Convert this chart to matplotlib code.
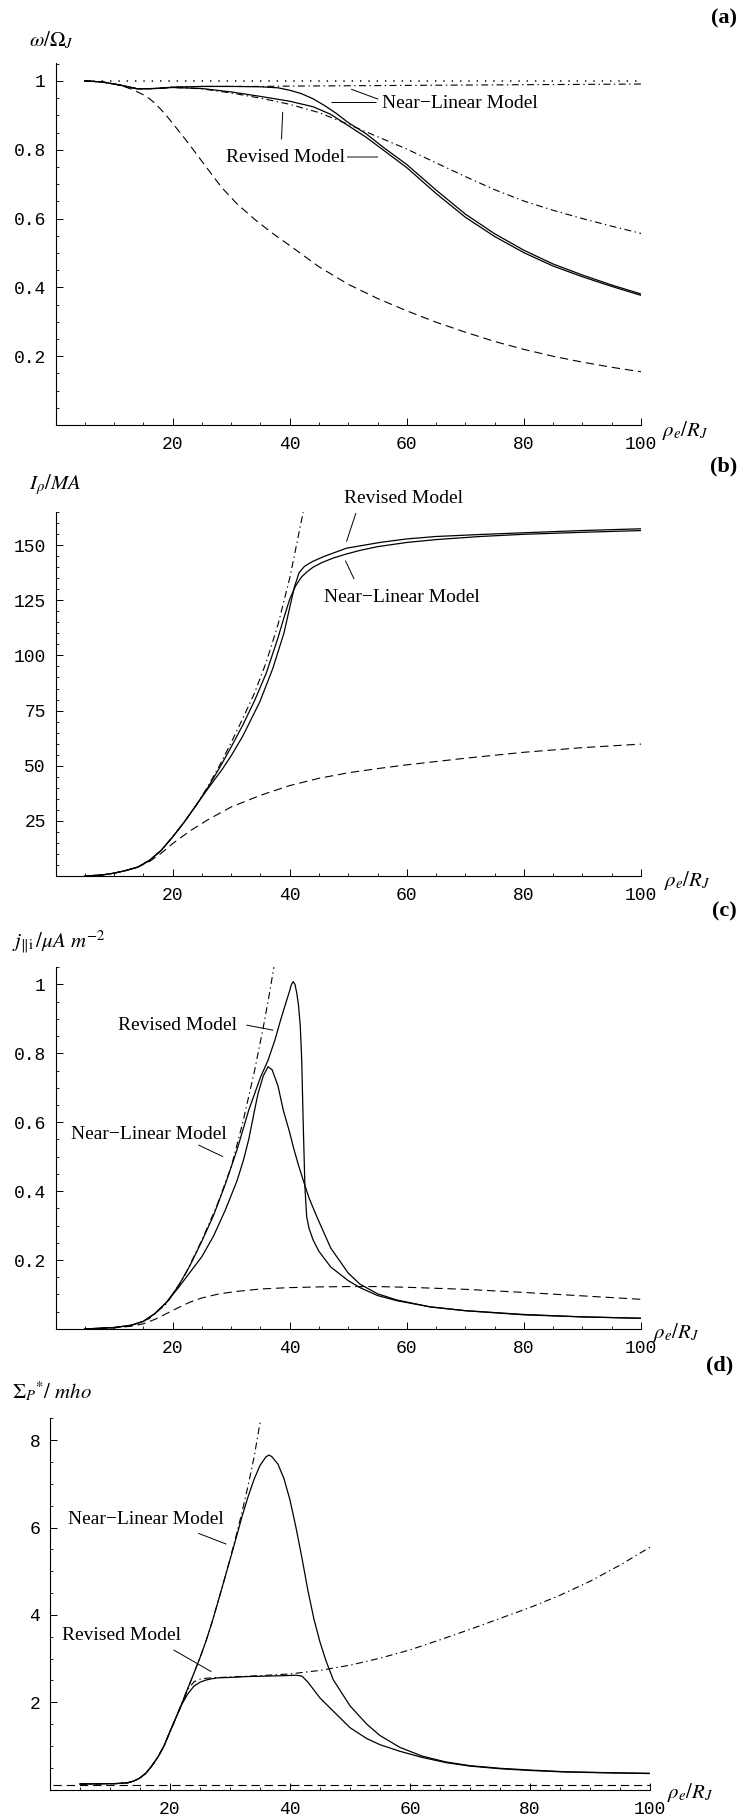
import matplotlib
matplotlib.use("Agg")
import matplotlib.pyplot as plt
from matplotlib.ticker import FixedLocator, FuncFormatter

plt.rcParams["font.family"] = "Liberation Mono"
plt.rcParams["mathtext.fontset"] = "stix"
plt.rcParams["lines.scale_dashes"] = False

SERIF = "Liberation Serif"

# ---------------- (a) omega / Omega_J ----------------
a_x_near = [5, 8, 11, 14, 17, 20, 25, 30, 35, 38, 40, 42, 44, 46, 48, 50, 53, 56, 60, 65, 70, 75, 80, 85, 90, 95, 100]
a_y_near = [1.0, 0.997, 0.988, 0.977, 0.978, 0.982, 0.984, 0.984, 0.983, 0.980, 0.973, 0.963, 0.948, 0.928, 0.905, 0.879,
            0.847, 0.807, 0.757, 0.683, 0.613, 0.556, 0.508, 0.468, 0.436, 0.407, 0.381]
a_x_rev = [5, 8, 11, 14, 17, 20, 25, 30, 35, 40, 44, 47, 50, 53, 56, 60, 65, 70, 75, 80, 85, 90, 95, 100]
a_y_rev = [1.0, 0.997, 0.988, 0.977, 0.978, 0.981, 0.978, 0.968, 0.955, 0.941, 0.925, 0.903, 0.870, 0.837, 0.799, 0.748,
           0.673, 0.604, 0.548, 0.501, 0.462, 0.431, 0.403, 0.377]
a_x_rev_dd = [5, 8, 11, 14, 17, 20, 25, 30, 35, 40, 45, 50, 55, 60, 65, 70, 75, 80, 85, 90, 95, 100]
a_y_rev_dd = [1.0, 0.997, 0.988, 0.977, 0.978, 0.981, 0.977, 0.965, 0.950, 0.932, 0.908, 0.874, 0.838, 0.802, 0.762,
              0.722, 0.684, 0.651, 0.624, 0.600, 0.578, 0.557]
a_x_near_dd = [5, 8, 11, 14, 17, 20, 25, 30, 35, 40, 50, 60, 70, 80, 90, 100]
a_y_near_dd = [1.0, 0.997, 0.988, 0.977, 0.978, 0.982, 0.984, 0.984, 0.984, 0.985, 0.986, 0.987, 0.988, 0.989, 0.990, 0.991]
a_x_hill = [5, 8, 11, 12, 13, 14, 15, 16, 17, 18, 19, 20, 22.7, 25.6, 28.4, 31, 34, 37, 40, 45, 50, 55, 60, 65, 70, 75,
            80, 85, 90, 95, 100]
a_y_hill = [1.0, 0.997, 0.988, 0.982, 0.976, 0.968, 0.960, 0.949, 0.935, 0.917, 0.898, 0.877, 0.819, 0.753, 0.69, 0.643,
            0.598, 0.558, 0.522, 0.46, 0.409, 0.368, 0.332, 0.299, 0.27, 0.243, 0.22, 0.2, 0.183, 0.168, 0.155]
a_x_rigid = [5, 100]
a_y_rigid = [1.0, 1.0]

# ---------------- (b) I_rho / MA ----------------
b_x_dd = [5, 8, 10, 12, 14, 16, 18, 20, 22, 24, 26, 28, 30, 32, 34, 36, 38, 40, 41, 42.3]
b_y_dd = [0, 0.5, 1.3, 2.5, 4.0, 7.0, 11.5, 17.7, 24.5, 32, 40.5, 50, 60.5, 71.5, 83, 97, 114, 135, 148, 165]
b_x_near = [5, 8, 10, 12, 14, 16, 18, 20, 22, 24, 26, 28, 30, 32, 34, 36, 38, 39, 40, 41, 42, 43, 44, 45.6, 47.5, 49.6,
            52, 55, 60, 65, 72.5, 80, 90, 100]
b_y_near = [0, 0.5, 1.3, 2.5, 4.0, 7.0, 11.5, 17.7, 24.5, 32, 40, 49, 58.5, 68.5, 79.5, 92, 108, 117, 125.5, 131.5,
            135.5, 138, 140, 142.2, 144.2, 145.9, 147.6, 149.3, 151.2, 152.5, 153.9, 154.9, 155.8, 156.6]
b_x_rev = [5, 8, 10, 12, 14, 16, 18, 20, 22, 24, 26, 28.5, 30, 32, 34.9, 37.1, 39, 40.2, 40.8, 41.6, 42.5, 43.2, 44, 46,
           49.7, 55.4, 60, 65, 72.5, 80, 90, 100]
b_y_rev = [0, 0.5, 1.3, 2.5, 4.0, 7.0, 11.5, 17.7, 24.5, 32, 39.5, 48.5, 54.5, 63.5, 79, 94, 110, 124, 131, 137.5,
           140.3, 141.5, 142.7, 145, 148.6, 151.2, 152.8, 153.9, 154.8, 155.6, 156.6, 157.4]
b_x_hill = [5, 8, 10, 12, 14, 16, 18, 20, 23, 26, 30, 35, 40, 45, 50, 55, 60, 70, 80, 90, 100]
b_y_hill = [0, 0.5, 1.3, 2.5, 4.0, 6.5, 10.2, 14.7, 20.5, 25.5, 31.3, 36.6, 41, 44.3, 46.8, 48.7, 50.4, 53.4, 56.1, 58.2, 59.8]

# ---------------- (c) j_||i ----------------
c_x_dd = [5, 10, 13, 16, 19, 22, 25, 27.5, 30, 32, 34, 35.5, 36.5, 37.3]
c_y_dd = [0, 0.004, 0.011, 0.03, 0.074, 0.153, 0.258, 0.355, 0.47, 0.6, 0.75, 0.877, 0.97, 1.05]
c_x_near = [5, 10, 13, 15, 17, 19, 21, 23, 25, 27, 29, 31, 32.1, 33, 34, 34.6, 35.5, 36.3, 37, 38, 38.9, 40, 40.6, 41.5,
            42.3, 43.3, 44.6, 47, 50, 52, 55, 58.3, 64, 70, 80, 90, 100]
c_y_near = [0, 0.004, 0.011, 0.022, 0.045, 0.078, 0.12, 0.165, 0.21, 0.27, 0.345, 0.43, 0.49, 0.55, 0.635, 0.684, 0.735,
            0.761, 0.752, 0.705, 0.635, 0.57, 0.529, 0.475, 0.432, 0.38, 0.327, 0.235, 0.162, 0.13, 0.102, 0.084, 0.064,
            0.053, 0.042, 0.035, 0.031]
c_x_rev = [5, 10, 13, 15, 17, 19, 21, 23, 25, 27, 29, 31, 33, 35, 36.3, 37.5, 38.5, 39.5, 40.0, 40.3, 40.6, 40.9, 41.2,
           41.5, 41.8, 42.05, 42.3, 42.6, 42.9, 43.3, 44, 45, 47, 50, 52, 55, 58.3, 64, 70, 80, 90, 100]
c_y_rev = [0, 0.004, 0.011, 0.022, 0.045, 0.078, 0.125, 0.185, 0.255, 0.33, 0.42, 0.52, 0.635, 0.73, 0.78, 0.84, 0.90,
           0.955, 0.982, 1.0, 1.008, 1.0, 0.975, 0.94, 0.88, 0.78, 0.6, 0.41, 0.325, 0.292, 0.258, 0.225, 0.18, 0.14,
           0.12, 0.097, 0.082, 0.064, 0.053, 0.041, 0.035, 0.031]
c_x_hill = [5, 10, 13, 15, 17, 19, 21, 23, 25, 28, 31, 35, 40, 45, 50, 55, 60, 70, 80, 90, 100]
c_y_hill = [0, 0.003, 0.008, 0.015, 0.028, 0.045, 0.062, 0.078, 0.09, 0.102, 0.109, 0.116, 0.12, 0.122, 0.123, 0.123,
            0.121, 0.115, 0.106, 0.096, 0.086]

# ---------------- (d) Sigma_P* ----------------
d_x_near = [5, 8, 11, 13, 14, 15, 16, 17, 18, 19, 20, 21, 22, 23, 24, 25, 26, 27, 28, 29, 30, 31, 32, 33, 34, 35, 36,
            36.5, 37, 38, 39, 40, 41, 42, 43, 44, 45, 46, 47.2, 50, 52.8, 55, 58.3, 62, 66, 70, 75, 80, 86, 93, 100]
d_y_near = [0.13, 0.135, 0.14, 0.16, 0.2, 0.27, 0.38, 0.55, 0.75, 1.0, 1.33, 1.65, 1.98, 2.33, 2.67, 3.02, 3.4, 3.83,
            4.3, 4.78, 5.26, 5.75, 6.25, 6.7, 7.1, 7.42, 7.62, 7.66, 7.62, 7.45, 7.12, 6.63, 6.0, 5.3, 4.55, 3.9, 3.38,
            2.95, 2.52, 1.92, 1.5, 1.24, 0.97, 0.77, 0.635, 0.55, 0.49, 0.45, 0.41, 0.39, 0.375]
d_x_rev = [5, 8, 11, 13, 14, 15, 16, 17, 18, 19, 20, 21, 22, 23, 24, 25, 26, 27, 28, 30, 33, 36, 39, 41, 42, 43, 44, 45,
           47.2, 50, 52.8, 55, 58.3, 62, 66, 70, 75, 80, 86, 93, 100]
d_y_rev = [0.13, 0.135, 0.14, 0.16, 0.2, 0.27, 0.38, 0.55, 0.75, 1.0, 1.33, 1.65, 1.96, 2.2, 2.37, 2.46, 2.51, 2.54,
           2.56, 2.57, 2.59, 2.6, 2.61, 2.62, 2.6, 2.46, 2.28, 2.1, 1.8, 1.42, 1.17, 1.03, 0.88, 0.74, 0.62, 0.54, 0.48,
           0.44, 0.405, 0.385, 0.37]
d_x_rev_dd = [5, 8, 11, 13, 14, 15, 16, 17, 18, 19, 20, 21, 22, 23, 24, 25, 26, 27, 30, 35, 40, 45, 50, 55, 60, 65,
              70, 75, 80, 85, 90, 95, 100]
d_y_rev_dd = [0.13, 0.135, 0.14, 0.16, 0.2, 0.27, 0.38, 0.55, 0.75, 1.0, 1.33, 1.65, 1.98, 2.3, 2.47, 2.53, 2.55, 2.56,
              2.58, 2.61, 2.65, 2.73, 2.85, 3.01, 3.2, 3.43, 3.67, 3.92, 4.17, 4.45, 4.77, 5.14, 5.55]
d_x_near_dd = [5, 8, 11, 13, 14, 15, 16, 17, 18, 19, 20, 21, 22, 23, 24, 25, 26, 27, 28, 29, 30, 31, 32, 33, 34, 35.1]
d_y_near_dd = [0.13, 0.135, 0.14, 0.16, 0.2, 0.27, 0.38, 0.55, 0.75, 1.0, 1.33, 1.65, 1.98, 2.33, 2.67, 3.02, 3.4,
               3.83, 4.3, 4.78, 5.28, 5.8, 6.35, 6.95, 7.6, 8.47]
d_x_const = [0.5, 100]
d_y_const = [0.1, 0.1]

SOLID = dict(color="black", lw=0.9, ls="-")
DASHED = dict(color="black", lw=0.8, dashes=(6, 3.5))
DASHDOT = dict(color="black", lw=0.8, dashes=(5, 2.5, 1, 2.5))
DOTTED = dict(color="black", lw=1.1, dashes=(1, 5))


def make_axes(fig, rect, ymax, y_major, y_minor, ylabel, ylabel_pos, xlabel_pos):
    ax = fig.add_axes(rect)
    ax.set_xlim(0, 100)
    ax.set_ylim(0, ymax)
    ax.spines[["top", "right"]].set_visible(False)
    for s in ("left", "bottom"):
        ax.spines[s].set_linewidth(0.8)
    ax.xaxis.set_major_locator(FixedLocator([20, 40, 60, 80, 100]))
    ax.xaxis.set_minor_locator(FixedLocator([5 * i for i in range(1, 21)]))
    ax.yaxis.set_major_locator(FixedLocator(y_major))
    ax.yaxis.set_minor_locator(FixedLocator(y_minor))
    fmt = FuncFormatter(lambda v, p: f"{v:g}")
    ax.xaxis.set_major_formatter(fmt)
    ax.yaxis.set_major_formatter(fmt)
    ax.tick_params(which="major", direction="in", length=5, width=0.7, labelsize=13)
    ax.tick_params(which="minor", direction="in", length=2.5, width=0.6)
    ax.tick_params(axis="x", pad=8)
    ax.tick_params(axis="y", pad=7)
    ax.text(ylabel_pos[0], ylabel_pos[1], ylabel, transform=ax.transAxes, fontsize=15,
            ha="left", va="center")
    ax.text(xlabel_pos[0], xlabel_pos[1], r"$\rho_e/R_J$", transform=ax.transAxes, fontsize=15,
            ha="left", va="center")
    return ax


def label(ax, x, y, txt):
    ax.text(x, y, txt, fontsize=14, family=SERIF, ha="left", va="center")


def leader(ax, xs, ys, color="black", lw=0.7):
    ax.plot(xs, ys, color=color, lw=lw, solid_capstyle="butt", clip_on=False)


fig = plt.figure(figsize=(7.46, 18.16), dpi=100)

# panel (a)
ax = make_axes(fig, [0.0744, 0.7659, 0.7849, 0.1992], 1.051,
               [0.2, 0.4, 0.6, 0.8, 1.0], [0.05 * i for i in range(1, 22)],
               r"$\omega/\Omega_J$", (-0.045, 1.064), (1.036, -0.014))
ax.plot(a_x_rigid, a_y_rigid, **DOTTED)
ax.plot(a_x_hill, a_y_hill, **DASHED)
ax.plot(a_x_near_dd, a_y_near_dd, **DASHDOT)
ax.plot(a_x_rev_dd, a_y_rev_dd, **DASHDOT)
ax.plot(a_x_near, a_y_near, **SOLID)
ax.plot(a_x_rev, a_y_rev, **SOLID)
label(ax, 55.7, 0.933, "Near\u2212Linear Model")
leader(ax, [47.0, 54.7], [0.938, 0.938])
leader(ax, [50.5, 55.1], [0.976, 0.947])
label(ax, 29.1, 0.777, "Revised Model")
leader(ax, [38.8, 38.6], [0.91, 0.83])
leader(ax, [49.7, 55.0], [0.78, 0.78], color="0.45", lw=1.2)

# panel (b)
ax = make_axes(fig, [0.0744, 0.5176, 0.7849, 0.2007], 165.2,
               [25, 50, 75, 100, 125, 150], [5 * i for i in range(1, 34)],
               r"$I_\rho/MA$", (-0.046, 1.073), (1.04, -0.011))
ax.plot(b_x_hill, b_y_hill, **DASHED)
ax.plot(b_x_dd, b_y_dd, **DASHDOT)
ax.plot(b_x_near, b_y_near, **SOLID)
ax.plot(b_x_rev, b_y_rev, **SOLID)
label(ax, 49.2, 171.3, "Revised Model")
leader(ax, [51.3, 49.7], [164.5, 151.6])
label(ax, 45.9, 126.4, "Near\u2212Linear Model")
leader(ax, [49.5, 51.0], [143, 134.6])

# panel (c)
ax = make_axes(fig, [0.0744, 0.2682, 0.7849, 0.1994], 1.051,
               [0.2, 0.4, 0.6, 0.8, 1.0], [0.05 * i for i in range(1, 22)],
               r"$j_{\|\mathrm{i}}\,/\mu A\ m^{-2}$", (-0.074, 1.065), (1.02, -0.011))
ax.plot(c_x_hill, c_y_hill, **DASHED)
ax.plot(c_x_dd, c_y_dd, **DASHDOT)
ax.plot(c_x_near, c_y_near, **SOLID)
ax.plot(c_x_rev, c_y_rev, **SOLID)
label(ax, 10.7, 0.88, "Revised Model")
leader(ax, [32.6, 37.2], [0.882, 0.867])
label(ax, 2.6, 0.563, "Near\u2212Linear Model")
leader(ax, [24.4, 28.6], [0.534, 0.5])

# panel (d)
ax = make_axes(fig, [0.0670, 0.01448, 0.8043, 0.2045], 8.5,
               [2, 4, 6, 8], [0.5 * i for i in range(1, 18)],
               r"$\Sigma_P{}^{*}/\ mho$", (-0.063, 1.072), (1.028, -0.008))
ax.plot(d_x_const, d_y_const, **DASHED)
ax.plot(d_x_near_dd, d_y_near_dd, **DASHDOT)
ax.plot(d_x_rev_dd, d_y_rev_dd, **DASHDOT)
ax.plot(d_x_near, d_y_near, **SOLID)
ax.plot(d_x_rev, d_y_rev, **SOLID)
label(ax, 3.05, 6.19, "Near\u2212Linear Model")
leader(ax, [24.7, 29.4], [5.87, 5.62])
label(ax, 1.95, 3.52, "Revised Model")
leader(ax, [20.6, 26.9], [3.2, 2.7])

# panel letters
for ypos, xpos, txt in [(0.9899, 0.988, "(a)"), (0.743, 0.988, "(b)"), (0.498, 0.988, "(c)"), (0.2483, 0.983, "(d)")]:
    fig.text(xpos, ypos, txt, fontsize=16, family=SERIF, weight="bold", ha="right", va="center")

fig.savefig("out.png", dpi=100)
